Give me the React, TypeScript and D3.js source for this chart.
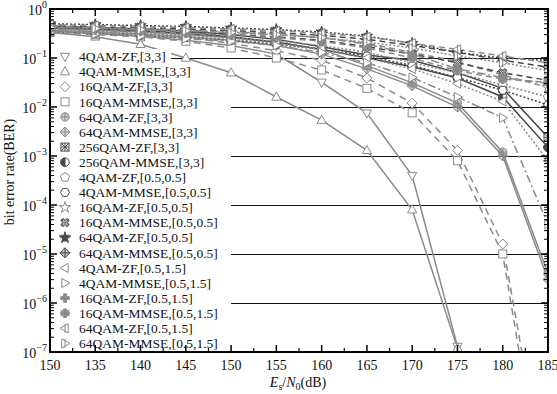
import React from 'react';
import * as d3 from 'd3';

// Es/N0 sample points (dB)
const snr = [130, 135, 140, 145, 150, 155, 160, 165, 170, 175, 180, 185];
// the first tick label is printed as "150" in the original figure
const xTickLabels = ['150', '135', '140', '145', '150', '155', '160', '165', '170', '175', '180', '185'];
const yTickExps = [0, -1, -2, -3, -4, -5, -6, -7];

const qam4ZF33 = [0.35, 0.32, 0.28, 0.23, 0.18, 0.12, 0.032, 0.0075, 4e-4, 1.3e-7];
const qam4MMSE33 = [0.33, 0.27, 0.19, 0.1, 0.05, 0.016, 0.0054, 0.0013, 8e-5, 1.2e-7];
const qam16ZF33 = [0.36, 0.33, 0.3, 0.26, 0.2, 0.14, 0.09, 0.039, 0.012, 1.3e-3, 1.6e-5, 1e-10];
const qam16MMSE33 = [0.33, 0.3, 0.27, 0.22, 0.16, 0.1, 0.057, 0.024, 0.0076, 8e-4, 1e-5, 3e-11];
const qam64ZF33 = [0.4, 0.37, 0.34, 0.3, 0.26, 0.21, 0.15, 0.07, 0.031, 0.012, 0.0012, 4e-6];
const qam64MMSE33 = [0.37, 0.34, 0.31, 0.27, 0.23, 0.18, 0.12, 0.06, 0.027, 0.01, 0.001, 3e-6];
const qam256ZF33 = [0.45, 0.42, 0.39, 0.35, 0.3, 0.24, 0.17, 0.115, 0.09, 0.05, 0.024, 0.0024];
const qam256MMSE33 = [0.42, 0.39, 0.36, 0.32, 0.27, 0.21, 0.15, 0.1, 0.066, 0.039, 0.016, 0.0015];
const qam4ZF55 = [0.38, 0.35, 0.32, 0.29, 0.26, 0.22, 0.18, 0.13, 0.08, 0.05, 0.028, 0.016];
const qam4MMSE55 = [0.35, 0.32, 0.29, 0.26, 0.23, 0.19, 0.15, 0.11, 0.07, 0.04, 0.022, 0.011];
const qam16ZF55 = [0.43, 0.41, 0.39, 0.36, 0.33, 0.3, 0.26, 0.2, 0.13, 0.085, 0.045, 0.025];
const qam16MMSE55 = [0.4, 0.38, 0.35, 0.33, 0.3, 0.27, 0.23, 0.17, 0.12, 0.08, 0.05, 0.035];
const qam64ZF55 = [0.5, 0.48, 0.46, 0.44, 0.41, 0.38, 0.34, 0.28, 0.2, 0.13, 0.1, 0.09];
const qam64MMSE55 = [0.45, 0.43, 0.41, 0.39, 0.36, 0.33, 0.29, 0.24, 0.18, 0.13, 0.09, 0.065];
const qam4ZF515 = [0.36, 0.33, 0.3, 0.27, 0.24, 0.2, 0.15, 0.1, 0.06, 0.03, 0.013, 8e-4];
const qam4MMSE515 = [0.34, 0.31, 0.28, 0.25, 0.22, 0.18, 0.13, 0.08, 0.04, 0.016, 0.006, 4e-5];
const qam16ZF515 = [0.44, 0.42, 0.4, 0.37, 0.34, 0.31, 0.26, 0.19, 0.12, 0.06, 0.04, 0.03];
const qam16MMSE515 = [0.39, 0.37, 0.35, 0.32, 0.29, 0.26, 0.22, 0.16, 0.1, 0.055, 0.037, 0.032];
const qam64ZF515 = [0.48, 0.46, 0.44, 0.42, 0.39, 0.36, 0.32, 0.27, 0.2, 0.15, 0.11, 0.08];
const qam64MMSE515 = [0.42, 0.4, 0.38, 0.36, 0.33, 0.3, 0.26, 0.21, 0.16, 0.11, 0.08, 0.055];

const GREY = '#8a8a8a';
const DARK = '#484848';

type Series = { name: string; values: number[]; color: string; dash: string; marker: string };

const series: Series[] = [
  { name: '4QAM-ZF,[3,3]', values: qam4ZF33, color: GREY, dash: '', marker: 'triDown' },
  { name: '4QAM-MMSE,[3,3]', values: qam4MMSE33, color: GREY, dash: '', marker: 'triUp' },
  { name: '16QAM-ZF,[3,3]', values: qam16ZF33, color: GREY, dash: '7,5', marker: 'diamond' },
  { name: '16QAM-MMSE,[3,3]', values: qam16MMSE33, color: GREY, dash: '7,5', marker: 'square' },
  { name: '64QAM-ZF,[3,3]', values: qam64ZF33, color: GREY, dash: '', marker: 'circlePlus' },
  { name: '64QAM-MMSE,[3,3]', values: qam64MMSE33, color: GREY, dash: '', marker: 'diamondPlus' },
  { name: '256QAM-ZF,[3,3]', values: qam256ZF33, color: DARK, dash: '', marker: 'squareX' },
  { name: '256QAM-MMSE,[3,3]', values: qam256MMSE33, color: DARK, dash: '', marker: 'halfCircle' },
  { name: '4QAM-ZF,[0.5,0.5]', values: qam4ZF55, color: GREY, dash: '2,2', marker: 'pentagon' },
  { name: '4QAM-MMSE,[0.5,0.5]', values: qam4MMSE55, color: DARK, dash: '2,2', marker: 'hexagon' },
  { name: '16QAM-ZF,[0.5,0.5]', values: qam16ZF55, color: GREY, dash: '6,4', marker: 'star' },
  { name: '16QAM-MMSE,[0.5,0.5]', values: qam16MMSE55, color: DARK, dash: '6,4', marker: 'hatch' },
  { name: '64QAM-ZF,[0.5,0.5]', values: qam64ZF55, color: DARK, dash: '2,2', marker: 'asterisk' },
  { name: '64QAM-MMSE,[0.5,0.5]', values: qam64MMSE55, color: DARK, dash: '6,4', marker: 'diamondPlus' },
  { name: '4QAM-ZF,[0.5,1.5]', values: qam4ZF515, color: GREY, dash: '2,2', marker: 'triLeft' },
  { name: '4QAM-MMSE,[0.5,1.5]', values: qam4MMSE515, color: GREY, dash: '8,3,2,3', marker: 'triRight' },
  { name: '16QAM-ZF,[0.5,1.5]', values: qam16ZF515, color: GREY, dash: '8,3,2,3', marker: 'plusFilled' },
  { name: '16QAM-MMSE,[0.5,1.5]', values: qam16MMSE515, color: GREY, dash: '6,4', marker: 'plusBars' },
  { name: '64QAM-ZF,[0.5,1.5]', values: qam64ZF515, color: GREY, dash: '6,4', marker: 'triLeftBar' },
  { name: '64QAM-MMSE,[0.5,1.5]', values: qam64MMSE515, color: GREY, dash: '2,2', marker: 'triRightBar' },
];

const W = 557;
const H = 394;
const left = 50, right = 548, top = 9, bottom = 352;

const x = d3.scaleLinear().domain([130, 185]).range([left, right]);
const y = d3.scaleLog().domain([1e-7, 1]).range([bottom, top]);

const poly = (n: number, r: number, rot = -Math.PI / 2) =>
  d3.range(n).map(i => {
    const a = rot + (i * 2 * Math.PI) / n;
    return `${(r * Math.cos(a)).toFixed(2)},${(r * Math.sin(a)).toFixed(2)}`;
  }).join(' ');

const tri = (deg: number) => (
  <polygon points="0,-5 4.6,3.2 -4.6,3.2" transform={`rotate(${deg})`} />
);

const Marker = ({ type, cx, cy, color }: { type: string; cx: number; cy: number; color: string }) => {
  const s = { stroke: color, strokeWidth: 1, fill: 'white' };
  let el: React.ReactNode = null;
  switch (type) {
    case 'triUp': el = tri(0); break;
    case 'triDown': el = tri(180); break;
    case 'triLeft': el = tri(-90); break;
    case 'triRight': el = tri(90); break;
    case 'diamond': el = <polygon points="0,-5 5,0 0,5 -5,0" />; break;
    case 'square': el = <rect x={-4} y={-4} width={8} height={8} />; break;
    case 'circlePlus':
      el = <g><circle r={4.2} fill={color} fillOpacity={0.45} /><path d="M-4.2,0H4.2M0,-4.2V4.2" /></g>; break;
    case 'diamondPlus':
      el = <g><polygon points="0,-5 5,0 0,5 -5,0" fill={color} fillOpacity={0.35} /><path d="M-5,0H5M0,-5V5" /></g>; break;
    case 'squareX':
      el = <g><rect x={-4} y={-4} width={8} height={8} /><path d="M-4,-4L4,4M4,-4L-4,4M0,-4V4M-4,0H4" /></g>; break;
    case 'halfCircle':
      el = <g><circle r={4.2} /><path d="M0,-4.2A4.2,4.2 0 0,0 0,4.2Z" fill={color} /></g>; break;
    case 'pentagon': el = <polygon points={poly(5, 4.8)} />; break;
    case 'hexagon': el = <polygon points={poly(6, 4.5, 0)} />; break;
    case 'star':
      el = <path d={d3.symbol(d3.symbolStar, 40)() || ''} />; break;
    case 'hatch':
      el = <g><path d={d3.symbol(d3.symbolCross, 40)() || ''} transform="rotate(45)" /><path d="M-3.5,-3.5L3.5,3.5M3.5,-3.5L-3.5,3.5" /></g>; break;
    case 'asterisk':
      el = <g><path d={d3.symbol(d3.symbolStar, 40)() || ''} fill={color} /><path d="M-4.5,0H4.5M0,-4.5V4.5M-3.2,-3.2L3.2,3.2M3.2,-3.2L-3.2,3.2" /></g>; break;
    case 'plusFilled':
      el = <path d={d3.symbol(d3.symbolCross, 40)() || ''} fill={color} />; break;
    case 'plusBars':
      el = <g><path d={d3.symbol(d3.symbolCross, 40)() || ''} fill={color} /><path d="M-4.5,-2.5H4.5M-4.5,2.5H4.5" /></g>; break;
    case 'triLeftBar':
      el = <g>{tri(-90)}<path d="M0,-4.6V4.6" /></g>; break;
    case 'triRightBar':
      el = <g>{tri(90)}<path d="M0,-4.6V4.6" /></g>; break;
  }
  return <g transform={`translate(${cx},${cy})`} {...s}>{el}</g>;
};

const App = () => {
  const line = d3.line<[number, number]>()
    .x(d => x(d[0]))
    .y(d => y(d[1]));

  const xMajor = d3.range(130, 186, 5);
  const xMinor = d3.range(132.5, 185, 5);
  const yMinor: number[] = [];
  for (let e = -7; e < 0; e++) for (let m = 2; m <= 9; m++) yMinor.push(m * Math.pow(10, e));

  const font = '"Liberation Serif", "Times New Roman", serif';

  return (
    <svg width={W} height={H} style={{ position: 'absolute', left: 0, top: 0 }} fontFamily={font}>
      <defs>
        <clipPath id="plot">
          <rect x={left} y={top} width={right - left} height={bottom - top} />
        </clipPath>
      </defs>
      <rect width={W} height={H} fill="white" />

      {/* horizontal reference lines */}
      {yTickExps.slice(1, -1).map(e => (
        <line key={e} x1={x(e === -1 ? 143 : 150)} x2={right}
          y1={Math.round(y(Math.pow(10, e))) + 0.5} y2={Math.round(y(Math.pow(10, e))) + 0.5}
          stroke="#111" strokeWidth={1} />
      ))}

      <g clipPath="url(#plot)">
        {series.map(s => {
          const pts = s.values.map((v, i) => [snr[i], v] as [number, number]);
          return (
            <path key={s.name} d={line(pts) || ''} fill="none" stroke={s.color} strokeWidth={1.5}
              strokeDasharray={s.dash || undefined} />
          );
        })}
        {series.map(s => s.values.map((v, i) => (
          <Marker key={s.name + i} type={s.marker} cx={x(snr[i])} cy={y(v)} color={s.color} />
        )))}
      </g>

      {/* legend */}
      <rect x={left + 1} y={49} width={120} height={bottom - 50} fill="white" />
      {series.map((s, i) => {
        const ly = 56.5 + i * 15.1;
        return (
          <g key={s.name}>
            <Marker type={s.marker} cx={65} cy={ly} color={s.color} />
            <text x={79} y={ly} dy="0.35em" fontSize={13.5} fill="#111">{s.name}</text>
          </g>
        );
      })}

      {/* frame and ticks */}
      <rect x={left} y={top} width={right - left} height={bottom - top} fill="none" stroke="#000" strokeWidth={2} />
      {xMajor.map(v => (
        <g key={'xm' + v}>
          <line x1={x(v)} x2={x(v)} y1={bottom} y2={bottom - 7} stroke="#000" strokeWidth={1.5} />
          <line x1={x(v)} x2={x(v)} y1={top} y2={top + 7} stroke="#000" strokeWidth={1.5} />
        </g>
      ))}
      {xMinor.map(v => (
        <g key={'xn' + v}>
          <line x1={x(v)} x2={x(v)} y1={bottom} y2={bottom - 4} stroke="#000" strokeWidth={1.2} />
          <line x1={x(v)} x2={x(v)} y1={top} y2={top + 4} stroke="#000" strokeWidth={1.2} />
        </g>
      ))}
      {yTickExps.map(e => (
        <g key={'ym' + e}>
          <line x1={left} x2={left + 7} y1={y(Math.pow(10, e))} y2={y(Math.pow(10, e))} stroke="#000" strokeWidth={1.5} />
          <line x1={right} x2={right - 7} y1={y(Math.pow(10, e))} y2={y(Math.pow(10, e))} stroke="#000" strokeWidth={1.5} />
        </g>
      ))}
      {yMinor.map(v => (
        <g key={'yn' + v}>
          <line x1={left} x2={left + 4} y1={y(v)} y2={y(v)} stroke="#000" strokeWidth={1} />
          <line x1={right} x2={right - 4} y1={y(v)} y2={y(v)} stroke="#000" strokeWidth={1} />
        </g>
      ))}

      {/* tick labels */}
      {xMajor.map((v, i) => (
        <text key={'xl' + v} x={x(v)} y={370} textAnchor="middle" fontSize={14} fill="#111">{xTickLabels[i]}</text>
      ))}
      {yTickExps.map(e => (
        <text key={'yl' + e} x={47} y={y(Math.pow(10, e)) + 6} textAnchor="end" fontSize={14} fill="#111">
          10<tspan dy={-7} fontSize={10}>{e === 0 ? '0' : '\u2212' + String(-e)}</tspan>
        </text>
      ))}

      {/* axis titles */}
      <text x={298} y={387} textAnchor="middle" fontSize={14} fill="#111">
        <tspan fontStyle="italic">E</tspan>
        <tspan dy={3} fontSize={10}>s</tspan>
        <tspan dy={-3}>/</tspan>
        <tspan fontStyle="italic">N</tspan>
        <tspan dy={3} fontSize={10}>0</tspan>
        <tspan dy={-3}>(dB)</tspan>
      </text>
      <text transform="translate(14,172) rotate(-90)" textAnchor="middle" fontSize={14} fill="#111">
        bit error rate(BER)
      </text>
    </svg>
  );
};

export default App;
